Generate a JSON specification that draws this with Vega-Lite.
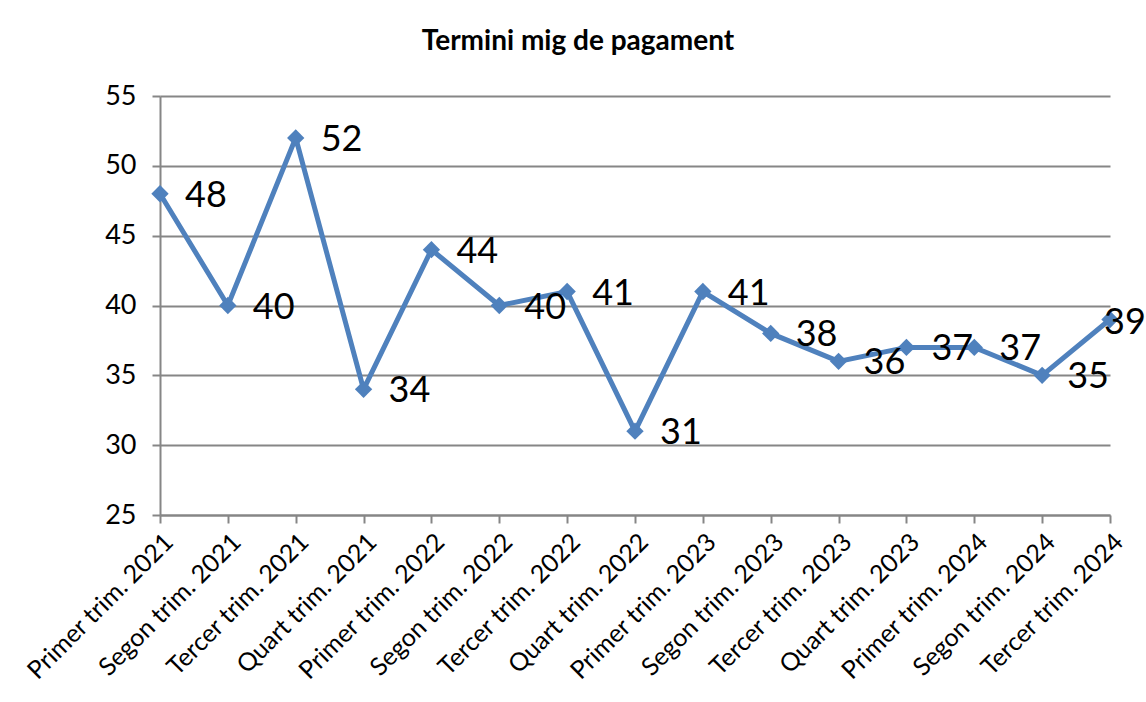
{
  "$schema": "https://vega.github.io/schema/vega-lite/v6.json",
  "autosize": {"type": "none"},
  "width": 950,
  "height": 419,
  "padding": {"left": 160, "top": 96, "right": 36, "bottom": 187},
  "background": "white",
  "title": {
    "text": "Termini mig de pagament",
    "font": "Lato",
    "fontSize": 28,
    "fontWeight": "bold",
    "color": "black",
    "anchor": "middle",
    "dx": -57,
    "offset": 26
  },
  "data": {
    "values": [
      {"q": "Primer trim. 2021", "v": 48},
      {"q": "Segon trim. 2021", "v": 40},
      {"q": "Tercer trim. 2021", "v": 52},
      {"q": "Quart trim. 2021", "v": 34},
      {"q": "Primer trim. 2022", "v": 44},
      {"q": "Segon trim. 2022", "v": 40},
      {"q": "Tercer trim. 2022", "v": 41},
      {"q": "Quart trim. 2022", "v": 31},
      {"q": "Primer trim. 2023", "v": 41},
      {"q": "Segon trim. 2023", "v": 38},
      {"q": "Tercer trim. 2023", "v": 36},
      {"q": "Quart trim. 2023", "v": 37},
      {"q": "Primer trim. 2024", "v": 37},
      {"q": "Segon trim. 2024", "v": 35},
      {"q": "Tercer trim. 2024", "v": 39}
    ]
  },
  "encoding": {
    "x": {
      "field": "q",
      "type": "ordinal",
      "sort": null,
      "scale": {"type": "point", "padding": 0},
      "axis": {
        "title": null,
        "labelAngle": -45,
        "labelFont": "Lato",
        "labelFontSize": 25,
        "labelLimit": 0,
        "labelColor": "black",
        "labelPadding": 6,
        "domainColor": "#868686",
        "domainWidth": 2,
        "tickColor": "#868686",
        "tickWidth": 2,
        "tickSize": 8,
        "grid": false
      }
    },
    "y": {
      "field": "v",
      "type": "quantitative",
      "scale": {"domain": [25, 55], "nice": false, "zero": false},
      "axis": {
        "title": null,
        "values": [25, 30, 35, 40, 45, 50, 55],
        "labelFont": "Lato",
        "labelFontSize": 27,
        "labelColor": "black",
        "labelPadding": 16,
        "domainColor": "#868686",
        "domainWidth": 2,
        "tickColor": "#868686",
        "tickWidth": 2,
        "tickSize": 8,
        "gridColor": "#868686",
        "gridWidth": 2
      }
    }
  },
  "layer": [
    {"mark": {"type": "line", "color": "#4F81BD", "strokeWidth": 5}},
    {"mark": {"type": "point", "shape": "diamond", "filled": true, "color": "#4F81BD", "opacity": 1, "size": 300}},
    {
      "transform": [{"filter": "datum.q !== 'Tercer trim. 2024'"}],
      "mark": {"type": "text", "font": "Lato", "fontSize": 36, "color": "black", "align": "left", "baseline": "middle", "dx": 25, "dy": 2},
      "encoding": {"text": {"field": "v", "type": "quantitative"}}
    },
    {
      "transform": [{"filter": "datum.q === 'Tercer trim. 2024'"}],
      "mark": {"type": "text", "font": "Lato", "fontSize": 36, "color": "black", "align": "left", "baseline": "middle", "dx": -6, "dy": 4},
      "encoding": {"text": {"field": "v", "type": "quantitative"}}
    }
  ],
  "config": {"view": {"stroke": null}}
}
